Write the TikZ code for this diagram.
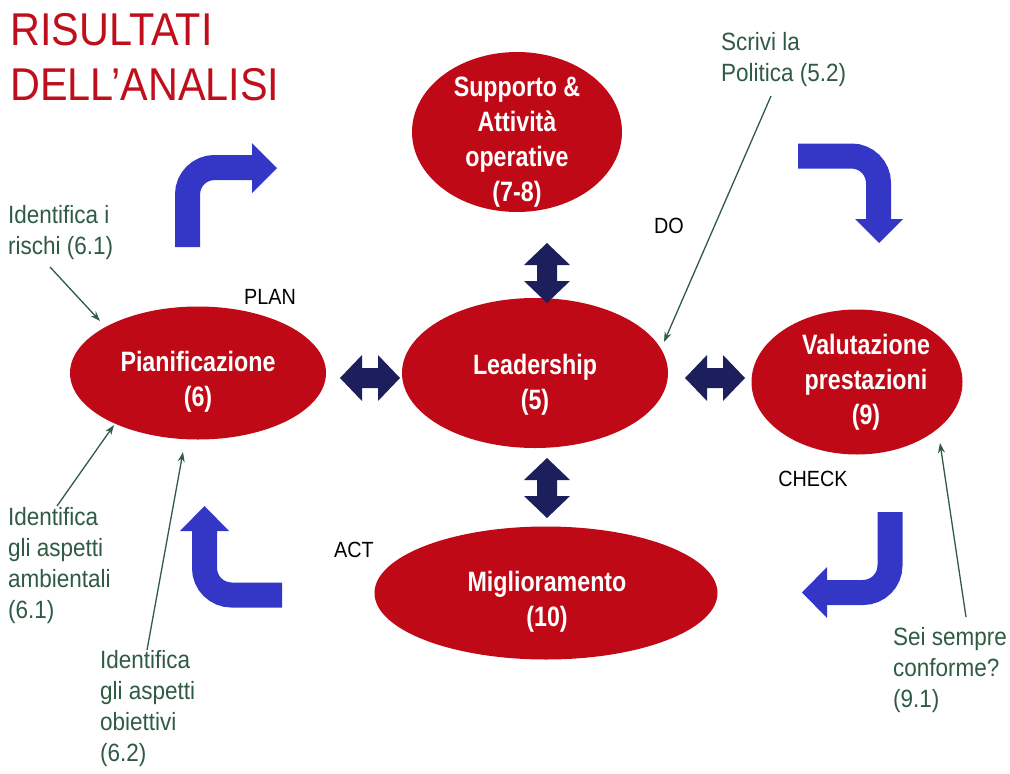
\documentclass[tikz,border=0pt]{standalone}
\usepackage{fontspec}
\setmainfont{Liberation Sans}[FakeStretch=0.9]
\newfontfamily\phasefont{Liberation Sans}[FakeStretch=0.83]
\usetikzlibrary{shapes.geometric,arrows.meta}

\definecolor{ellred}{HTML}{C00916}
\definecolor{titlered}{HTML}{C00F1C}
\definecolor{bentblue}{HTML}{3437C6}
\definecolor{navy}{HTML}{1C1F5C}
\definecolor{notegreen}{HTML}{2F5B43}

\begin{document}
\begin{tikzpicture}[x=1pt,y=-1pt,
  phase/.style={ellipse, fill=ellred, draw=none, inner sep=0pt},
  phasetext/.style={text=white, align=center, inner sep=0pt,
    font=\phasefont\bfseries\fontsize{28}{35}\selectfont},
  note/.style={text=notegreen, align=left, anchor=north west, inner sep=0pt,
    font=\fontsize{25}{31}\selectfont},
  cyc/.style={font=\fontsize{22}{26}\selectfont, inner sep=0pt},
  notearrow/.style={draw=notegreen, line width=1.3pt,
    -{Stealth[length=10pt,width=7pt]}},
  bent/.style={draw=bentblue, line width=25pt, rounded corners=27pt},
  benthead/.style={fill=bentblue},
  dbl/.pic={\fill[navy] (-30,0) -- (-8,-23) -- (-8,-10) -- (8,-10) -- (8,-23)
    -- (30,0) -- (8,23) -- (8,10) -- (-8,10) -- (-8,23) -- cycle;},
]
\useasboundingbox (0,0) rectangle (1010,774);

% title
\node[anchor=north west, text=titlered, align=left, inner sep=0pt,
  font=\fontsize{46}{55}\selectfont] (title) at (10,13) {RISULTATI\\DELL’ANALISI};

% the five phases
\node[phase, minimum width=210, minimum height=160] (supp) at (517,132) {};
\node[phase, minimum width=256, minimum height=133] (pian) at (198,373) {};
\node[phase, minimum width=266, minimum height=150] (lead) at (535,373) {};
\node[phase, minimum width=211, minimum height=145] (valu) at (857,382) {};
\node[phase, minimum width=343, minimum height=133] (migl) at (546,593) {};

\node[phasetext] (suppT) at (517,142) {Supporto \&\\Attività\\operative\\(7-8)};
\node[phasetext] (pianT) at (198,382) {Pianificazione\\(6)};
\node[phasetext] (leadT) at (535,385) {Leadership\\(5)};
\node[phasetext] (valuT) at (866,382) {Valutazione\\prestazioni\\(9)};
\node[phasetext] (miglT) at (547,602) {Miglioramento\\(10)};

% double arrows around Leadership
\pic at (370,378) {dbl};
\pic at (715,378) {dbl};
\pic[rotate=90] at (547,273) {dbl};
\pic[rotate=90] at (547,488) {dbl};

% PDCA cycle arrows
\draw[bent] (187.5,247) -- (187.5,167.5) -- (253,167.5);
\fill[benthead] (252,143) -- (277,168) -- (252,193) -- cycle;
\draw[bent] (798,156) -- (878.5,156) -- (878.5,220);
\fill[benthead] (855,219) -- (903,219) -- (879,243) -- cycle;
\draw[bent] (890,512) -- (890,592.5) -- (826,592.5);
\fill[benthead] (827,567) -- (802,592.5) -- (827,618) -- cycle;
\draw[bent] (282,595) -- (204.5,595) -- (204.5,530);
\fill[benthead] (180,531) -- (204.5,506) -- (229,531) -- cycle;

% cycle labels
\node[cyc] (plan) at (270,297) {PLAN};
\node[cyc] (do) at (669,226) {DO};
\node[cyc] (check) at (813,479) {CHECK};
\node[cyc] (act) at (354,550) {ACT};

% notes
\node[note] (rischi) at (8,205) {Identifica i\\rischi (6.1)};
\node[note] (amb) at (8,507) {Identifica\\gli aspetti\\ambientali\\(6.1)};
\node[note] (obi) at (100,650) {Identifica\\gli aspetti\\obiettivi\\(6.2)};
\node[note] (pol) at (721,32) {Scrivi la\\Politica (5.2)};
\node[note] (conf) at (893,627) {Sei sempre\\conforme?\\(9.1)};

\coordinate (rischiS) at (50,267);
\coordinate (rischiE) at (100,321);
\coordinate (ambS) at (57,506);
\coordinate (ambE) at (114,425);
\coordinate (obiS) at (147,650);
\coordinate (obiE) at (183,452);
\coordinate (polS) at (771,96);
\coordinate (polE) at (664,342);
\coordinate (confS) at (966,617);
\coordinate (confE) at (940,443);

\draw[notearrow] (rischiS) -- (rischiE);
\draw[notearrow] (ambS) -- (ambE);
\draw[notearrow] (obiS) -- (obiE);
\draw[notearrow] (polS) -- (polE);
\draw[notearrow] (confS) -- (confE);
\end{tikzpicture}
\end{document}
